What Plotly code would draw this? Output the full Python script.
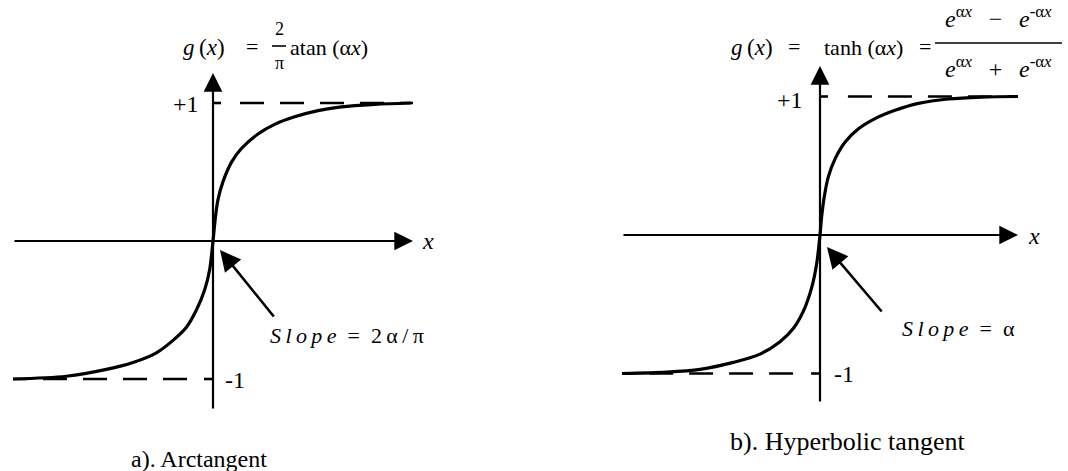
import plotly.graph_objects as go

# ---- data: sampled curves (x scaled so each drawn axis spans [-1, 1]) ----
atan_x = [-1.0, -0.733, -0.533, -0.40, -0.283, -0.20, -0.133, -0.083, -0.042, -0.017,
          0.0, 0.012, 0.025, 0.05, 0.092, 0.142, 0.225, 0.308, 0.408, 0.525, 0.642, 0.808, 0.99]
atan_y = [-1.0, -0.98, -0.93, -0.88, -0.81, -0.72, -0.625, -0.50, -0.355, -0.21,
          0.0, 0.17, 0.30, 0.43, 0.57, 0.67, 0.775, 0.845, 0.90, 0.945, 0.972, 0.99, 1.0]

tanh_x = [-1.0, -0.773, -0.606, -0.438, -0.303, -0.202, -0.135, -0.084, -0.042, -0.017,
          0.0, 0.009, 0.022, 0.042, 0.076, 0.126, 0.193, 0.278, 0.379, 0.497, 0.648, 0.817, 1.0]
tanh_y = [-1.0, -0.99, -0.97, -0.92, -0.86, -0.77, -0.675, -0.55, -0.38, -0.21,
          0.0, 0.14, 0.28, 0.42, 0.55, 0.67, 0.765, 0.84, 0.90, 0.95, 0.982, 0.996, 1.0]

asymptote_levels = [1, -1]
level_labels = ["+1", "-1"]
captions = ["a). Arctangent", "b). Hyperbolic tangent"]
slope_labels = ["<i>S\u2009l\u2009o\u2009p\u2009e</i>  =  2\u2009α\u2009/\u2009π",
                "<i>S\u2009l\u2009o\u2009p\u2009e</i>  =  α"]

W, H = 1068, 471
FONT = "Liberation Serif"
INK = "#000000"


def paper(xp, yp):
    return xp / W, 1 - yp / H


fig = go.Figure()

# sigmoid curves
for cx, cy, ax_x, ax_y in [(atan_x, atan_y, "x", "y"), (tanh_x, tanh_y, "x2", "y2")]:
    fig.add_trace(go.Scatter(x=cx, y=cy, mode="lines",
                             line=dict(color=INK, width=3.2, shape="spline", smoothing=0.9),
                             xaxis=ax_x, yaxis=ax_y, hoverinfo="skip"))

# dashed asymptotes (drawn outward from the vertical axis) and short ticks
for ax_x, ax_y, gap_pos, gap_neg in [("x", "y", 0.135, -0.13), ("x2", "y2", 0.141, -0.136)]:
    fig.add_trace(go.Scatter(x=[gap_pos, 1.0], y=[asymptote_levels[0]] * 2, mode="lines",
                             line=dict(color=INK, width=2.6, dash="24px,16px"),
                             xaxis=ax_x, yaxis=ax_y, hoverinfo="skip"))
    fig.add_trace(go.Scatter(x=[gap_neg, -1.0], y=[asymptote_levels[1]] * 2, mode="lines",
                             line=dict(color=INK, width=2.6, dash="24px,16px"),
                             xaxis=ax_x, yaxis=ax_y, hoverinfo="skip"))
    fig.add_trace(go.Scatter(x=[0, 0.04], y=[asymptote_levels[0]] * 2, mode="lines",
                             line=dict(color=INK, width=2.6), xaxis=ax_x, yaxis=ax_y, hoverinfo="skip"))
    fig.add_trace(go.Scatter(x=[-0.045, 0], y=[asymptote_levels[1]] * 2, mode="lines",
                             line=dict(color=INK, width=2.6), xaxis=ax_x, yaxis=ax_y, hoverinfo="skip"))

annotations = []


def arrow(xref, yref, x, y, ax, ay, width=2.2, size=1.7):
    annotations.append(dict(x=x, y=y, ax=ax, ay=ay, xref=xref, yref=yref, axref=xref, ayref=yref,
                            text="", showarrow=True, arrowhead=2, arrowsize=size,
                            arrowwidth=width, arrowcolor=INK))


# coordinate axes with arrow heads
arrow("x", "y", 1.0, 0, -1.0, 0)
arrow("x", "y", 0, 1.217, 0, -1.225)
arrow("x2", "y2", 1.0, 0, -1.0, 0)
arrow("x2", "y2", 0, 1.22, 0, -1.213)
# slope pointers
arrow("x", "y", 0.035, -0.065, 0.31, -0.558, width=2.6, size=1.6)
arrow("x2", "y2", 0.035, -0.087, 0.318, -0.563, width=2.6, size=1.6)


def label(xp, yp, text, size=18, xanchor="left", yanchor="middle"):
    px_, py_ = paper(xp, yp)
    annotations.append(dict(x=px_, y=py_, xref="paper", yref="paper", text=text, showarrow=False,
                            xanchor=xanchor, yanchor=yanchor,
                            font=dict(family=FONT, size=size, color=INK)))


num_text = "<i>e</i><sup>α<i>x</i></sup>\u2002\u2009−\u2002\u2009<i>e</i><sup>-α<i>x</i></sup>"
den_text = "<i>e</i><sup>α<i>x</i></sup>\u2002\u2009+\u2002\u2009<i>e</i><sup>-α<i>x</i></sup>"

# left panel text
label(201, 104, level_labels[0], size=24, xanchor="right")
label(223, 380, level_labels[1], size=24)
label(428, 241, "<i>x</i>", size=24, xanchor="center")
label(268, 335, slope_labels[0], size=22)
label(181, 48, "<i>g</i>\u2009(<i>x</i>)", size=23)
label(252, 47, "=", size=22, xanchor="center")
label(279, 29, "2", size=18, xanchor="center")
label(279, 63, "π", size=18, xanchor="center")
label(288, 48, "atan (α<i>x</i>)", size=22)
label(129, 459, captions[0], size=24)

# right panel text
label(805, 100, level_labels[0], size=24, xanchor="right")
label(832, 374, level_labels[1], size=24)
label(1034, 236, "<i>x</i>", size=24, xanchor="center")
label(900, 328, slope_labels[1], size=22)
label(729, 48, "<i>g</i>\u2009(<i>x</i>)", size=23)
label(794, 47, "=", size=22, xanchor="center")
label(822, 48, "tanh (α<i>x</i>)", size=22)
label(925, 47, "=", size=22, xanchor="center")
label(998, 17, num_text, size=24, xanchor="center")
label(998, 67, den_text, size=24, xanchor="center")
label(728, 441, captions[1], size=26)

shapes = []
for (x0, x1, yp) in [(272, 286, 46), (935, 1062, 43)]:
    a0, b0 = paper(x0, yp)
    a1, _ = paper(x1, yp)
    shapes.append(dict(type="line", xref="paper", yref="paper", x0=a0, x1=a1, y0=b0, y1=b0,
                       line=dict(color=INK, width=1.6)))

hidden = dict(visible=False, showgrid=False, zeroline=False)
fig.update_layout(
    width=W, height=H, margin=dict(l=0, r=0, t=0, b=0),
    paper_bgcolor="white", plot_bgcolor="white", showlegend=False,
    xaxis=dict(domain=[0, 0.5], range=[-1.065, 1.605], anchor="y", **hidden),
    yaxis=dict(domain=[0, 1], range=[-1.6667, 1.7464], anchor="x", **hidden),
    xaxis2=dict(domain=[0.5, 1], range=[-1.4444, 1.2525], anchor="y2", **hidden),
    yaxis2=dict(domain=[0, 1], range=[-1.704, 1.6968], anchor="x2", **hidden),
    annotations=annotations, shapes=shapes,
)

fig.write_html("out.html")
